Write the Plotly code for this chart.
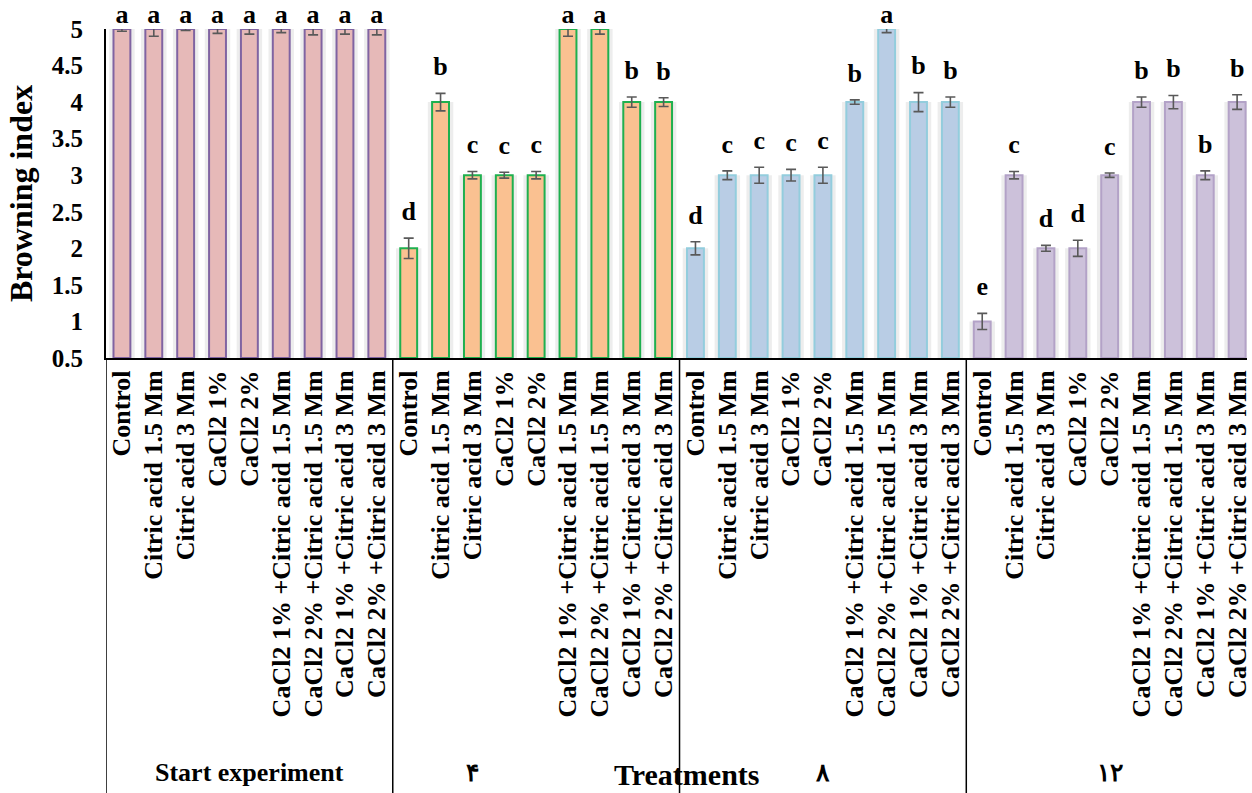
import plotly.graph_objects as go

# Treatments and periods
treatments = [
    "Control", "Citric acid 1.5 Mm", "Citric acid 3 Mm", "CaCl2 1%", "CaCl2 2%",
    "CaCl2 1% +Citric acid 1.5 Mm", "CaCl2 2% +Citric acid 1.5 Mm",
    "CaCl2 1% +Citric acid 3 Mm", "CaCl2 2% +Citric acid 3 Mm",
]
periods = ["Start experiment", "۴", "۸", "۱۲"]

# Browning index per period
start_vals = [5, 5, 5, 5, 5, 5, 5, 5, 5]
day4_vals = [2, 4, 3, 3, 3, 5, 5, 4, 4]
day8_vals = [2, 3, 3, 3, 3, 4, 5, 4, 4]
day12_vals = [1, 3, 2, 2, 3, 4, 4, 3, 4]

start_err = [0.03, 0.1, 0.02, 0.06, 0.07, 0.05, 0.08, 0.07, 0.08]
day4_err = [0.14, 0.12, 0.05, 0.04, 0.05, 0.1, 0.07, 0.07, 0.06]
day8_err = [0.09, 0.06, 0.11, 0.08, 0.11, 0.03, 0.05, 0.13, 0.07]
day12_err = [0.11, 0.05, 0.04, 0.11, 0.03, 0.07, 0.09, 0.06, 0.1]

start_letters = ["a"] * 9
day4_letters = ["d", "b", "c", "c", "c", "a", "a", "b", "b"]
day8_letters = ["d", "c", "c", "c", "c", "b", "a", "b", "b"]
day12_letters = ["e", "c", "d", "d", "c", "b", "b", "b", "b"]

values = [start_vals, day4_vals, day8_vals, day12_vals]
errors = [start_err, day4_err, day8_err, day12_err]
letters = [start_letters, day4_letters, day8_letters, day12_letters]

fills = ["#e6b9b8", "#fac191", "#b9cde5", "#ccc1da"]
lines = ["#8064a2", "#1fb04f", "#93cddd", "#b3a2c7"]

FONT = "Liberation Serif"
n = len(treatments)
W, H = 1252, 793
ML, MR, MT = 106, 0, 29
MB = H - 358
plot_h = H - MT - MB
YMAX = 5


def page_y(py):
    # page pixel row -> paper coordinate
    return 1 - (py - MT) / plot_h


fig = go.Figure()

for g in range(len(periods)):
    xs = [g * n + i for i in range(n)]
    # soft shadow behind bars
    fig.add_trace(go.Bar(
        x=xs, y=[v - 0.5 for v in values[g]], base=0.5,
        width=0.8, marker=dict(color="rgba(0,0,0,0.07)", line=dict(width=0)),
        hoverinfo="skip", showlegend=False,
    ))
    fig.add_trace(go.Bar(
        x=xs, y=[v - 0.5 for v in values[g]], base=0.5,
        width=0.53,
        marker=dict(color=fills[g], line=dict(color=lines[g], width=2)),
        error_y=dict(type="data", array=errors[g], color="#595959",
                     thickness=1.6, width=5),
        showlegend=False,
    ))
    fig.add_trace(go.Scatter(
        x=xs, y=[min(v + e + 0.16, YMAX) for v, e in zip(values[g], errors[g])],
        mode="text", text=letters[g], textposition="top center",
        textfont=dict(family=FONT, size=26, color="black", weight="bold"),
        cliponaxis=False, showlegend=False,
    ))

# group dividers running down through the tick-label area
for g in range(len(periods) + 1):
    fig.add_shape(type="line", xref="x", yref="paper",
                  x0=g * n - 0.5, x1=g * n - 0.5, y0=0, y1=-MB / plot_h,
                  line=dict(color="black", width=1.5))

# period labels
label_shift = [0, -2, 0, 0]
label_size = [26, 25, 25, 25]
for g, p in enumerate(periods):
    fig.add_annotation(x=g * n + (n - 1) / 2 + label_shift[g], xref="x",
                       y=page_y(772), yref="paper",
                       text=p, showarrow=False, yanchor="middle",
                       font=dict(family=FONT, size=label_size[g], color="black", weight="bold"))

fig.add_annotation(x=(690 - ML) / (W - ML - MR), xref="paper",
                   y=page_y(774), yref="paper",
                   text="Treatments", showarrow=False, yanchor="middle",
                   font=dict(family=FONT, size=30, color="black", weight="bold"))

fig.update_layout(
    width=W, height=H,
    margin=dict(l=ML, r=MR, t=MT, b=MB),
    plot_bgcolor="white", paper_bgcolor="white",
    barmode="overlay",
    showlegend=False,
)

fig.update_xaxes(
    range=[-0.5, 35.31],
    tickvals=list(range(len(periods) * n)),
    ticktext=treatments * len(periods),
    tickangle=-90,
    ticklabeloverflow="allow",
    tickfont=dict(family=FONT, size=26, color="black", weight="bold"),
    showline=True, linecolor="black", linewidth=2,
    ticks="", showgrid=False, zeroline=False,
)

fig.update_yaxes(
    range=[0.5, YMAX],
    tickvals=[0.5, 1, 1.5, 2, 2.5, 3, 3.5, 4, 4.5, 5],
    tickfont=dict(family=FONT, size=25, color="black", weight="bold"),
    ticklabelstandoff=16,
    title=dict(text="Browning index", standoff=10,
               font=dict(family=FONT, size=32, color="black", weight="bold")),
    showline=True, linecolor="black", linewidth=2,
    ticks="", showgrid=False, zeroline=False,
)

fig.write_html("out.html", config={"displayModeBar": False},
               post_script="document.body.style.margin='0';")
